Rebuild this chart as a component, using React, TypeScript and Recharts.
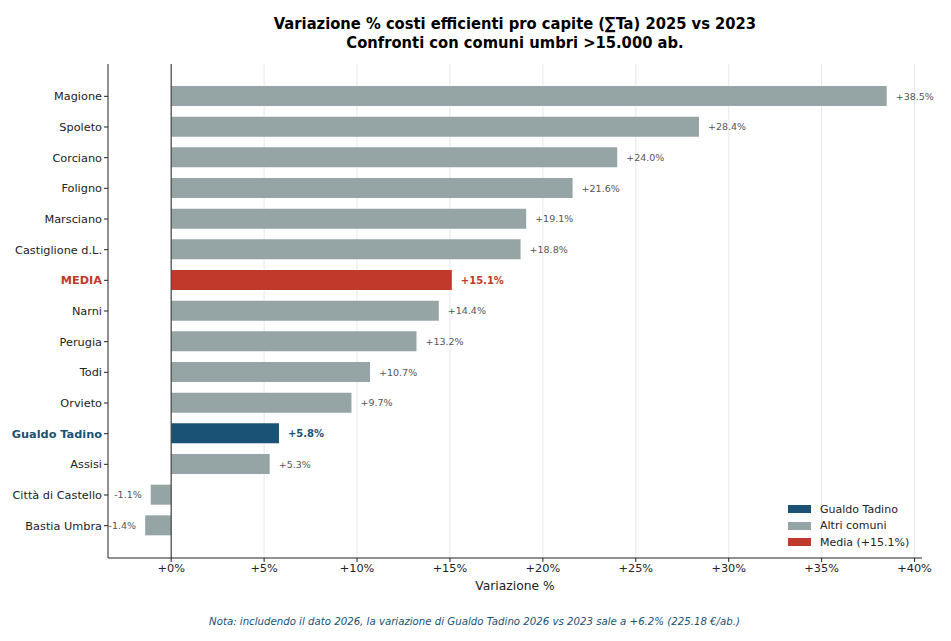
import React from 'react';
import {
  BarChart, Bar, XAxis, YAxis, CartesianGrid, ReferenceLine, Cell, LabelList,
} from 'recharts';

// Comuni umbri > 15.000 ab., ordered as in the chart (top to bottom)
const comuni = [
  'Magione', 'Spoleto', 'Corciano', 'Foligno', 'Marsciano', 'Castiglione d.L.', 'MEDIA',
  'Narni', 'Perugia', 'Todi', 'Orvieto', 'Gualdo Tadino', 'Assisi', 'Città di Castello', 'Bastia Umbra',
];
const variazioni = [38.5, 28.4, 24.0, 21.6, 19.1, 18.8, 15.1, 14.4, 13.2, 10.7, 9.7, 5.8, 5.3, -1.1, -1.4];
const xTicks = [0, 5, 10, 15, 20, 25, 30, 35, 40];

const BLUE = '#1a5276';
const GREY = '#95a5a6';
const RED = '#c0392b';
const FONT = 'DejaVu Sans, sans-serif';

const data = comuni.map((name, i) => ({ name, value: variazioni[i] }));

const colorFor = (name: string) => {
  if (name === 'Gualdo Tadino') return BLUE;
  if (name === 'MEDIA') return RED;
  return GREY;
};

const fmt = (v: number) => (v >= 0 ? `+${v.toFixed(1)}%` : `${v.toFixed(1)}%`);

const YTick = (props: any) => {
  const { x, y, payload } = props;
  const name = payload.value as string;
  const special = name === 'Gualdo Tadino' || name === 'MEDIA';
  return (
    <text
      x={x} y={y} dy={4} textAnchor="end" fontFamily={FONT} fontSize={11.3}
      fontWeight={special ? 'bold' : 'normal'} fill={special ? colorFor(name) : '#222'}
    >
      {name}
    </text>
  );
};

const ValueLabel = (props: any) => {
  const { x, y, width, height, value, index } = props;
  const name = comuni[index];
  const special = name === 'Gualdo Tadino' || name === 'MEDIA';
  const neg = value < 0;
  // bar starts at zero; for negatives x+width is the left end
  const end = neg ? Math.min(x, x + width) - 9 : Math.max(x, x + width) + 9;
  return (
    <text
      x={end} y={y + height / 2} dy={3.5} textAnchor={neg ? 'end' : 'start'}
      fontFamily={FONT} fontSize={special ? 10 : 9.5} fontWeight={special ? 'bold' : 'normal'}
      fill={special ? colorFor(name) : '#555'}
    >
      {fmt(value)}
    </text>
  );
};

const legendItems = [
  { label: 'Gualdo Tadino', color: BLUE },
  { label: 'Altri comuni', color: GREY },
  { label: 'Media (+15.1%)', color: RED },
];

export default function App() {
  return (
    <div style={{ position: 'absolute', left: 0, top: 0, width: 951, height: 641, background: '#fff', fontFamily: FONT }}>
      <div style={{ position: 'absolute', left: 0, width: 1030, top: 15, textAlign: 'center', fontWeight: 'bold', fontSize: 16.4, lineHeight: '18.5px', color: '#000', fontFamily: 'DejaVu Sans Condensed, DejaVu Sans, sans-serif', fontStretch: 'condensed' }}>
        Variazione % costi efficienti pro capite (∑Ta) 2025 vs 2023<br />
        Confronti con comuni umbri &gt;15.000 ab.
      </div>
      <BarChart
        width={951}
        height={641}
        data={data}
        layout="vertical"
        margin={{ top: 64, right: 29, left: 8, bottom: 53 }}
        barSize={20}
      >
        <CartesianGrid horizontal={false} stroke="#e8e8e8" verticalValues={xTicks} />
        <XAxis
          type="number"
          domain={[-3.4, 40.4]}
          ticks={xTicks}
          tickFormatter={(v: number) => `+${v}%`}
          height={30}
          stroke="#222"
          tickSize={4}
          tick={{ fontFamily: FONT, fontSize: 11.3, fill: '#222' }}
          allowDataOverflow
        />
        <YAxis
          type="category"
          dataKey="name"
          width={100}
          padding={{ top: 17, bottom: 17 }}
          stroke="#222"
          tickSize={4}
          interval={0}
          tick={<YTick />}
        />
        <ReferenceLine x={0} stroke="#444" strokeWidth={1.2} />
        <Bar dataKey="value" isAnimationActive={false}>
          {data.map((d) => (
            <Cell key={d.name} fill={colorFor(d.name)} />
          ))}
          <LabelList dataKey="value" content={<ValueLabel />} />
        </Bar>
      </BarChart>
      <div style={{ position: 'absolute', left: 108, width: 814, top: 579, textAlign: 'center', fontSize: 12.3, color: '#222' }}>
        Variazione %
      </div>
      <div style={{ position: 'absolute', left: 788, top: 501 }}>
        {legendItems.map((it) => (
          <div key={it.label} style={{ display: 'flex', alignItems: 'center', height: 16.5, fontSize: 11, color: '#222' }}>
            <span style={{ display: 'inline-block', width: 23, height: 8, background: it.color, marginRight: 9 }} />
            {it.label}
          </div>
        ))}
      </div>
      <div style={{ position: 'absolute', left: 0, width: 949, top: 616, textAlign: 'center', fontSize: 10.2, fontStyle: 'italic', color: BLUE }}>
        Nota: includendo il dato 2026, la variazione di Gualdo Tadino 2026 vs 2023 sale a +6.2% (225.18 €/ab.)
      </div>
    </div>
  );
}
